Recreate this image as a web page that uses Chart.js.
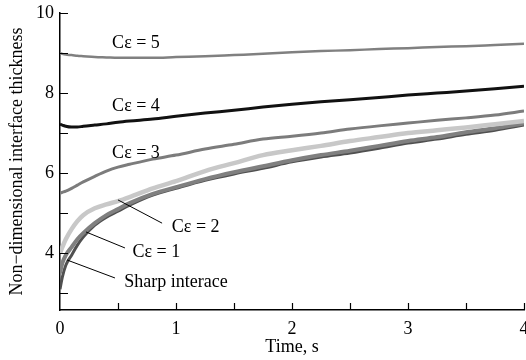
<!DOCTYPE html>
<html>
<head>
<meta charset="utf-8">
<script src="https://cdn.jsdelivr.net/npm/chart.js@4"></script>
<style>
  html, body { margin: 0; padding: 0; background: #fff; }
  #wrap { width: 526px; height: 360px; position: relative; }
</style>
</head>
<body>
<div id="wrap"><canvas id="thicknessChart"></canvas></div>
<script>
// time samples (s) shared by all curves
const timeSteps = [0, 0.02, 0.05, 0.1, 0.15, 0.2, 0.3, 0.4, 0.5, 0.6, 0.8, 1.0, 1.25, 1.5, 1.75, 2.0, 2.25, 2.5, 2.75, 3.0, 3.25, 3.5, 3.75, 4.0];

// non-dimensional interface thickness
const sharpValues = [3.1, 3.4, 3.7, 3.95, 4.2, 4.4, 4.7, 4.9, 5.05, 5.2, 5.45, 5.62, 5.82, 5.98, 6.12, 6.28, 6.4, 6.5, 6.62, 6.75, 6.85, 6.97, 7.07, 7.2];
const ce1Values = [3.5, 3.75, 3.95, 4.15, 4.35, 4.5, 4.75, 4.95, 5.1, 5.25, 5.48, 5.65, 5.85, 6.02, 6.17, 6.32, 6.45, 6.56, 6.68, 6.8, 6.9, 7.02, 7.12, 7.24];
const ce2Values = [4.0, 4.15, 4.35, 4.6, 4.8, 4.95, 5.12, 5.22, 5.3, 5.4, 5.62, 5.8, 6.05, 6.25, 6.45, 6.57, 6.68, 6.8, 6.9, 7.0, 7.07, 7.14, 7.22, 7.3];
const ce3Values = [5.5, 5.52, 5.55, 5.62, 5.7, 5.78, 5.92, 6.05, 6.15, 6.22, 6.35, 6.45, 6.6, 6.72, 6.85, 6.92, 7.0, 7.1, 7.18, 7.25, 7.32, 7.38, 7.45, 7.55];
const ce4Values = [7.22, 7.2, 7.17, 7.15, 7.15, 7.17, 7.2, 7.23, 7.27, 7.3, 7.35, 7.42, 7.5, 7.57, 7.65, 7.72, 7.78, 7.83, 7.89, 7.95, 8.0, 8.05, 8.11, 8.17];
const ce5Values = [9.0, 8.98, 8.96, 8.95, 8.93, 8.92, 8.9, 8.89, 8.88, 8.88, 8.88, 8.9, 8.92, 8.95, 8.98, 9.02, 9.05, 9.07, 9.1, 9.12, 9.15, 9.17, 9.2, 9.23];

const seriesNames = ['Sharp interace', 'Cε = 1', 'Cε = 2', 'Cε = 3', 'Cε = 4', 'Cε = 5'];

// curve labels: [text, t, y] and optional leader line [t1, y1, t2, y2]
const curveLabels = [
    ['Cε = 5', 0.655, 9.25, null],
    ['Cε = 4', 0.655, 7.68, null],
    ['Cε = 3', 0.655, 6.5, null],
    ['Cε = 2', 1.17, 4.65, [0.5, 5.33, 0.88, 4.75]],
    ['Cε = 1', 0.83, 4.03, [0.224, 4.53, 0.56, 4.13]],
    ['Sharp interace', 1.0, 3.28, [0.06, 3.83, 0.474, 3.38]]
];

const FONT = "'Liberation Serif', 'Times New Roman', serif";

function toPoints(values) {
    return values.map((v, i) => ({ x: timeSteps[i], y: v }));
}

function lineSet(label, values, color, width) {
    return {
        label: label,
        data: toPoints(values),
        borderColor: color,
        backgroundColor: color,
        borderWidth: width,
        pointRadius: 0,
        cubicInterpolationMode: 'monotone',
        fill: false
    };
}

// ticks pointing into the plot, plus the curve labels
const decorPlugin = {
    id: 'decor',
    afterDraw(chart) {
        const ctx = chart.ctx;
        const xs = chart.scales.x;
        const ys = chart.scales.y;
        const area = chart.chartArea;
        ctx.save();
        ctx.strokeStyle = '#000';
        ctx.lineWidth = 1.2;
        ctx.beginPath();
        for (let t = 0.5; t <= 4.001; t += 0.5) {
            const px = Math.round(xs.getPixelForValue(t)) + 0.5;
            ctx.moveTo(px, area.bottom);
            ctx.lineTo(px, area.bottom - 7);
        }
        for (let v = 3; v <= 10.001; v += 1) {
            const py = Math.round(ys.getPixelForValue(v)) + 0.5;
            ctx.moveTo(area.left, py);
            ctx.lineTo(area.left + 8, py);
        }
        ctx.stroke();

        ctx.font = '18px ' + FONT;
        ctx.fillStyle = '#000';
        ctx.textAlign = 'center';
        ctx.textBaseline = 'middle';
        ctx.lineWidth = 1;
        curveLabels.forEach(([text, t, y, leader]) => {
            ctx.fillText(text, xs.getPixelForValue(t), ys.getPixelForValue(y));
            if (leader) {
                ctx.beginPath();
                ctx.moveTo(xs.getPixelForValue(leader[0]), ys.getPixelForValue(leader[1]));
                ctx.lineTo(xs.getPixelForValue(leader[2]), ys.getPixelForValue(leader[3]));
                ctx.stroke();
            }
        });
        ctx.restore();
    }
};

document.addEventListener('DOMContentLoaded', () => {
    const ctx = document.getElementById('thicknessChart').getContext('2d');
    new Chart(ctx, {
        type: 'line',
        data: {
            datasets: [
                lineSet(seriesNames[2], ce2Values, '#c8c8c8', 4.5),
                lineSet(seriesNames[1], ce1Values, '#808080', 4),
                lineSet(seriesNames[0], sharpValues, '#505050', 3),
                lineSet(seriesNames[3], ce3Values, '#7c7c7c', 3),
                lineSet(seriesNames[4], ce4Values, '#111111', 3),
                lineSet(seriesNames[5], ce5Values, '#808080', 2.5)
            ]
        },
        options: {
            responsive: true,
            maintainAspectRatio: false,
            animation: false,
            layout: { padding: { top: 13, right: 2, left: 0, bottom: 0 } },
            plugins: {
                legend: { display: false },
                tooltip: { enabled: false }
            },
            scales: {
                x: {
                    type: 'linear',
                    min: 0,
                    max: 4,
                    afterFit: s => { s.height = 50; s.paddingLeft = 0; s.paddingRight = 0; },
                    border: { display: true, color: '#000', width: 1.5 },
                    grid: { display: false, drawTicks: false },
                    ticks: {
                        stepSize: 0.5,
                        includeBounds: false,
                        autoSkip: false,
                        maxRotation: 0,
                        padding: 8,
                        color: '#000',
                        font: { family: FONT, size: 18 },
                        callback: v => Number.isInteger(v) ? String(v) : ''
                    },
                    title: {
                        display: true,
                        text: 'Time, s',
                        color: '#000',
                        font: { family: FONT, size: 18 },
                        padding: { top: 0, bottom: 2 }
                    }
                },
                y: {
                    type: 'linear',
                    min: 2.58,
                    max: 10,
                    afterFit: s => { s.width = 60; s.paddingTop = 0; s.paddingBottom = 0; },
                    border: { display: true, color: '#000', width: 1.5 },
                    grid: { display: false, drawTicks: false },
                    ticks: {
                        stepSize: 1,
                        includeBounds: false,
                        autoSkip: false,
                        padding: 6,
                        color: '#000',
                        font: { family: FONT, size: 18 },
                        callback: v => (v % 2 === 0) ? String(v) : ''
                    },
                    title: {
                        display: true,
                        text: 'Non−dimensional interface thickness',
                        color: '#000',
                        font: { family: FONT, size: 18 },
                        padding: { top: 6, bottom: 0 }
                    }
                }
            }
        },
        plugins: [decorPlugin]
    });
});
</script>
</body>
</html>
